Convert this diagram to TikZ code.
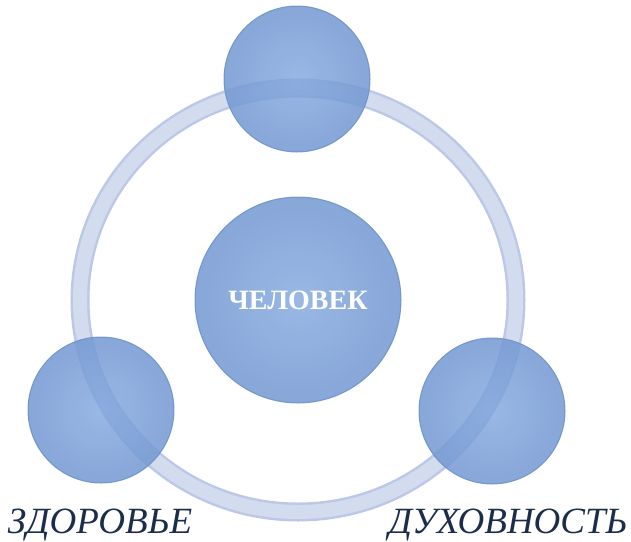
\documentclass[tikz,border=0pt]{standalone}
\usepackage{fontspec}
\setmainfont{Liberation Serif}
\definecolor{ringedge}{HTML}{BCC8E6}
\definecolor{ringfill}{HTML}{D3DBEF}
\definecolor{ballin}{HTML}{8EB0E2}
\definecolor{ballout}{HTML}{7A9DD4}
\definecolor{ballrim}{HTML}{6A8CC4}
\definecolor{navy}{HTML}{1B2D4B}
\tikzset{
  ball/.style={circle, minimum size=#1, inner sep=0pt, draw=ballrim, line width=1pt,
    inner color=ballin, outer color=ballout, fill opacity=0.9, draw opacity=0.8,
    text opacity=1},
  label/.style={font=\fontsize{37}{37}\selectfont\itshape, text=navy, inner sep=0pt, anchor=base},
}
\begin{document}
\begin{tikzpicture}[x=1pt,y=-1pt]
\useasboundingbox (0,0) rectangle (631,541);
% ring
\coordinate (rc) at (298,300);
\draw[ringedge, line width=19pt] (rc) ellipse [x radius=218, y radius=212];
\draw[ringfill, line width=14pt] (rc) ellipse [x radius=218, y radius=212];
% balls
\node[ball=146pt] (top) at (297,79) {};
\node[ball=146pt] (left) at (101,410) {};
\node[ball=146pt] (right) at (492,411) {};
\node[ball=206pt, font=\fontsize{28}{28}\selectfont\bfseries, text=white] (man) at (298,300) {ЧЕЛОВЕК};
% ring band seen through the balls
\foreach \b in {top,left,right}{
  \begin{scope}
    \clip (\b) circle (72);
    \draw[ballout, opacity=0.3, line width=19pt] (rc) ellipse [x radius=218, y radius=212];
  \end{scope}
}
% labels
\node[label] (zdor) at (100,533) {ЗДОРОВЬЕ};
\node[label] (duh) at (508,533) {ДУХОВНОСТЬ};
\end{tikzpicture}
\end{document}
